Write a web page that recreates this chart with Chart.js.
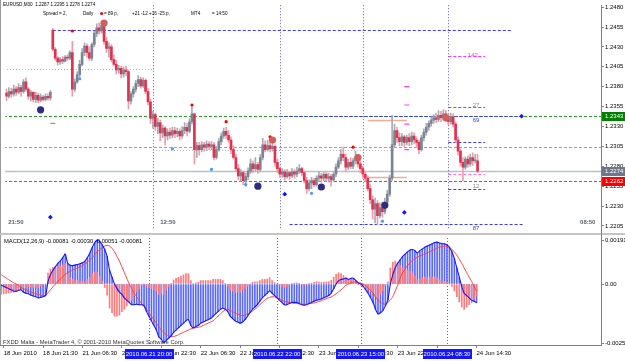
<!DOCTYPE html>
<html>
<head>
<meta charset="utf-8">
<script src="https://cdn.jsdelivr.net/npm/chart.js@4.4.1/dist/chart.umd.min.js"></script>
<style>
html, body { margin: 0; padding: 0; background: #fff; width: 625px; height: 361px; overflow: hidden; }
#pricePane { position: absolute; left: 0; top: 0; }
#macdPane { position: absolute; left: 0; top: 235px; }
</style>
</head>
<body>
<canvas id="pricePane" width="625" height="235"></canvas>
<canvas id="macdPane" width="625" height="126"></canvas>
<script>
// EURUSD M30, 18 Jun 2010 .. 24 Jun 2010 14:30 (one entry per bar)
const opens = [
  1.2372,1.2368,1.2374,1.2371,1.2377,1.2373,1.2379,1.2374,1.2386,1.2377,
  1.2368,1.2373,1.2364,1.2369,1.2363,1.2367,1.2364,1.2368,1.2366,1.2451,
  1.2427,1.2416,1.2411,1.2414,1.2412,1.2417,1.2416,1.2423,1.2377,1.2386,
  1.2395,1.2408,1.2423,1.2431,1.2423,1.2416,1.2433,1.2447,1.2454,1.2450,
  1.2457,1.2437,1.2428,1.2430,1.2414,1.2408,1.2401,1.2403,1.2396,1.2401,
  1.2399,1.2362,1.2371,1.2377,1.2384,1.2389,1.2381,1.2388,1.2374,1.2361,
  1.2340,1.2345,1.2330,1.2335,1.2322,1.2328,1.2318,1.2323,1.2319,1.2325,
  1.2321,1.2324,1.2318,1.2325,1.2329,1.2324,1.2336,1.2346,1.2301,1.2306,
  1.2301,1.2307,1.2304,1.2308,1.2305,1.2307,1.2291,1.2301,1.2311,1.2318,
  1.2324,1.2319,1.2313,1.2301,1.2291,1.2277,1.2268,1.2272,1.2262,1.2267,
  1.2274,1.2283,1.2277,1.2282,1.2276,1.2291,1.2307,1.2301,1.2306,1.2302,
  1.2305,1.2285,1.2277,1.2270,1.2273,1.2267,1.2272,1.2268,1.2273,1.2270,
  1.2274,1.2277,1.2272,1.2262,1.2252,1.2259,1.2262,1.2257,1.2265,1.2268,
  1.2265,1.2270,1.2265,1.2267,1.2263,1.2270,1.2279,1.2287,1.2295,1.2291,
  1.2279,1.2285,1.2280,1.2287,1.2291,1.2283,1.2277,1.2270,1.2265,1.2252,
  1.2238,1.2226,1.2233,1.2218,1.2228,1.2223,1.2235,1.2245,1.2265,1.2307,
  1.2325,1.2316,1.2311,1.2317,1.2310,1.2316,1.2311,1.2318,1.2313,1.2310,
  1.2301,1.2316,1.2323,1.2329,1.2334,1.2338,1.2341,1.2339,1.2344,1.2341,
  1.2346,1.2341,1.2336,1.2342,1.2333,1.2313,1.2299,1.2285,1.2279,1.2289,
  1.2283,1.2291,1.2287,1.2287
];
const highs = [
  1.2377,1.2379,1.2378,1.2382,1.2380,1.2384,1.2382,1.2389,1.2391,1.2379,
  1.2375,1.2374,1.2373,1.2372,1.2371,1.2369,1.2371,1.2371,1.2375,1.2453,
  1.2429,1.2418,1.2417,1.2418,1.2419,1.2420,1.2425,1.2437,1.2390,1.2399,
  1.2413,1.2428,1.2435,1.2434,1.2430,1.2435,1.2450,1.2459,1.2460,1.2462,
  1.2459,1.2442,1.2435,1.2433,1.2420,1.2413,1.2407,1.2406,1.2405,1.2406,
  1.2401,1.2374,1.2380,1.2388,1.2394,1.2392,1.2391,1.2390,1.2378,1.2364,
  1.2349,1.2347,1.2340,1.2338,1.2332,1.2330,1.2327,1.2328,1.2329,1.2329,
  1.2328,1.2327,1.2330,1.2335,1.2334,1.2340,1.2355,1.2347,1.2310,1.2310,
  1.2311,1.2310,1.2312,1.2311,1.2311,1.2310,1.2305,1.2315,1.2322,1.2328,
  1.2329,1.2325,1.2317,1.2306,1.2295,1.2282,1.2276,1.2274,1.2271,1.2278,
  1.2289,1.2287,1.2291,1.2285,1.2295,1.2315,1.2312,1.2313,1.2310,1.2309,
  1.2307,1.2289,1.2279,1.2277,1.2276,1.2276,1.2274,1.2277,1.2276,1.2279,
  1.2282,1.2279,1.2274,1.2266,1.2263,1.2266,1.2265,1.2268,1.2273,1.2271,
  1.2272,1.2272,1.2271,1.2270,1.2273,1.2283,1.2291,1.2301,1.2304,1.2295,
  1.2289,1.2291,1.2290,1.2299,1.2295,1.2287,1.2280,1.2274,1.2268,1.2257,
  1.2243,1.2240,1.2237,1.2234,1.2235,1.2240,1.2250,1.2269,1.2344,1.2333,
  1.2329,1.2322,1.2321,1.2319,1.2319,1.2321,1.2323,1.2322,1.2317,1.2313,
  1.2319,1.2327,1.2334,1.2337,1.2342,1.2345,1.2347,1.2350,1.2349,1.2351,
  1.2350,1.2346,1.2347,1.2346,1.2336,1.2317,1.2302,1.2291,1.2292,1.2293,
  1.2295,1.2297,1.2295,1.2295
];
const lows = [
  1.2362,1.2366,1.2367,1.2368,1.2369,1.2371,1.2368,1.2372,1.2374,1.2364,
  1.2362,1.2361,1.2360,1.2360,1.2361,1.2362,1.2362,1.2363,1.2363,1.2425,
  1.2413,1.2407,1.2408,1.2409,1.2411,1.2413,1.2414,1.2368,1.2374,1.2384,
  1.2392,1.2406,1.2419,1.2417,1.2413,1.2413,1.2430,1.2443,1.2446,1.2447,
  1.2433,1.2423,1.2417,1.2411,1.2406,1.2396,1.2397,1.2391,1.2392,1.2394,
  1.2352,1.2358,1.2367,1.2373,1.2380,1.2378,1.2379,1.2371,1.2357,1.2334,
  1.2328,1.2325,1.2321,1.2312,1.2316,1.2307,1.2313,1.2315,1.2316,1.2316,
  1.2317,1.2313,1.2315,1.2321,1.2318,1.2322,1.2333,1.2283,1.2291,1.2294,
  1.2298,1.2299,1.2300,1.2301,1.2301,1.2288,1.2289,1.2299,1.2307,1.2315,
  1.2315,1.2310,1.2296,1.2289,1.2273,1.2263,1.2261,1.2257,1.2255,1.2263,
  1.2271,1.2272,1.2274,1.2271,1.2273,1.2288,1.2298,1.2299,1.2298,1.2299,
  1.2280,1.2272,1.2266,1.2266,1.2263,1.2265,1.2263,1.2266,1.2265,1.2267,
  1.2271,1.2268,1.2259,1.2246,1.2249,1.2252,1.2254,1.2255,1.2261,1.2260,
  1.2262,1.2261,1.2260,1.2255,1.2261,1.2267,1.2277,1.2283,1.2287,1.2274,
  1.2276,1.2277,1.2277,1.2283,1.2279,1.2272,1.2265,1.2261,1.2249,1.2233,
  1.2214,1.2209,1.2207,1.2215,1.2216,1.2220,1.2231,1.2242,1.2262,1.2304,
  1.2310,1.2306,1.2306,1.2305,1.2307,1.2306,1.2307,1.2308,1.2304,1.2296,
  1.2299,1.2312,1.2319,1.2325,1.2330,1.2334,1.2335,1.2336,1.2336,1.2338,
  1.2336,1.2332,1.2333,1.2329,1.2310,1.2294,1.2280,1.2262,1.2276,1.2279,
  1.2280,1.2281,1.2284,1.2272
];
const closes = [
  1.2368,1.2374,1.2371,1.2377,1.2373,1.2379,1.2374,1.2386,1.2377,1.2368,
  1.2373,1.2364,1.2369,1.2363,1.2367,1.2364,1.2368,1.2366,1.2373,1.2427,
  1.2416,1.2411,1.2414,1.2412,1.2417,1.2416,1.2423,1.2377,1.2386,1.2395,
  1.2408,1.2423,1.2431,1.2423,1.2416,1.2433,1.2447,1.2454,1.2450,1.2457,
  1.2437,1.2428,1.2430,1.2414,1.2408,1.2401,1.2403,1.2396,1.2401,1.2399,
  1.2362,1.2371,1.2377,1.2384,1.2389,1.2381,1.2388,1.2374,1.2361,1.2340,
  1.2345,1.2330,1.2335,1.2322,1.2328,1.2318,1.2323,1.2319,1.2325,1.2321,
  1.2324,1.2318,1.2325,1.2329,1.2324,1.2336,1.2346,1.2301,1.2306,1.2301,
  1.2307,1.2304,1.2308,1.2305,1.2307,1.2291,1.2301,1.2311,1.2318,1.2324,
  1.2319,1.2313,1.2301,1.2291,1.2277,1.2268,1.2272,1.2262,1.2267,1.2274,
  1.2283,1.2277,1.2282,1.2276,1.2291,1.2307,1.2301,1.2306,1.2302,1.2305,
  1.2285,1.2277,1.2270,1.2273,1.2267,1.2272,1.2268,1.2273,1.2270,1.2274,
  1.2277,1.2272,1.2262,1.2252,1.2259,1.2262,1.2257,1.2265,1.2268,1.2265,
  1.2270,1.2265,1.2267,1.2263,1.2270,1.2279,1.2287,1.2295,1.2291,1.2279,
  1.2285,1.2280,1.2287,1.2291,1.2283,1.2277,1.2270,1.2265,1.2252,1.2238,
  1.2226,1.2233,1.2218,1.2228,1.2223,1.2235,1.2245,1.2265,1.2307,1.2325,
  1.2316,1.2311,1.2317,1.2310,1.2316,1.2311,1.2318,1.2313,1.2310,1.2301,
  1.2316,1.2323,1.2329,1.2334,1.2338,1.2341,1.2339,1.2344,1.2341,1.2346,
  1.2341,1.2336,1.2342,1.2333,1.2313,1.2299,1.2285,1.2279,1.2289,1.2283,
  1.2291,1.2287,1.2287,1.2274
];

// MACD(12,26,9), in points of 0.00001
const macdMain = [
  -5,-10,-15,-20,-25,-30,-32,-28,-25,-35,
  -40,-42,-48,-52,-55,-60,-58,-55,-50,10,
  40,60,75,90,100,115,130,90,82,80,
  82,85,88,92,100,115,135,160,180,191,
  185,170,150,120,60,30,0,-20,-35,-45,
  -60,-70,-80,-90,-90,-88,-90,-90,-95,-120,
  -140,-160,-180,-200,-230,-240,-255,-245,-235,-225,
  -210,-200,-190,-180,-170,-160,-155,-180,-190,-185,
  -180,-170,-165,-160,-155,-150,-140,-130,-120,-110,
  -105,-110,-120,-140,-150,-160,-165,-170,-165,-155,
  -140,-125,-110,-100,-90,-75,-60,-50,-40,-30,
  -40,-50,-60,-70,-80,-90,-90,-85,-80,-80,
  -80,-85,-90,-92,-90,-85,-80,-75,-70,-68,
  -65,-60,-55,-50,-40,-20,0,15,20,22,
  25,20,25,25,15,5,0,-10,-25,-40,
  -60,-80,-110,-130,-125,-115,-95,-70,0,40,
  70,90,105,120,130,140,148,150,145,135,
  145,152,160,165,170,175,180,182,178,175,
  175,170,160,140,110,70,30,-10,-40,-50,
  -60,-70,-75,-81
];
const macdSignal = [
  40,33,26,19,12,6,0,-5,-15,-20,
  -25,-30,-35,-38,-42,-45,-48,-50,-50,-38,
  -25,-12,0,12,22,32,42,50,55,60,
  65,70,75,80,88,95,105,115,128,140,
  150,158,165,168,165,155,140,120,100,75,
  50,25,0,-20,-40,-55,-70,-85,-95,-110,
  -125,-140,-155,-170,-185,-200,-210,-220,-225,-228,
  -228,-225,-220,-215,-210,-205,-200,-195,-192,-190,
  -188,-185,-180,-175,-170,-165,-160,-150,-140,-130,
  -120,-112,-110,-115,-120,-125,-130,-135,-138,-135,
  -130,-125,-118,-110,-100,-90,-80,-70,-62,-58,
  -55,-56,-60,-65,-70,-75,-78,-80,-82,-84,
  -85,-86,-88,-88,-88,-86,-84,-82,-80,-76,
  -72,-68,-64,-60,-56,-50,-42,-34,-25,-15,
  -5,0,5,8,8,6,4,0,-8,-18,
  -28,-40,-55,-70,-80,-85,-88,-80,-70,-55,
  -30,-5,25,50,65,80,92,102,110,117,
  122,126,130,135,140,145,150,155,160,163,
  165,163,160,150,140,125,108,90,70,50,
  30,12,-10,-30
];

// time axis
const timeTickBars = [1, 17, 33, 49, 65, 81, 97, 113, 129, 145, 161, 177, 193];
const timeTickLabels = ['18 Jun 2010', '18 Jun 21:30', '21 Jun 06:30', '21 Jun 14:30', '21 Jun 22:30',
  '22 Jun 06:30', '22 Jun 14:30', '22 Jun 22:30', '23 Jun 06:30', '23 Jun 14:30', '23 Jun 22:30',
  '24 Jun 06:30', '24 Jun 14:30'];
const sepBars = [60, 112, 146, 181];
const sepLabels = ['2010.06.21 20:00', '2010.06.22 22:00', '2010.06.23 15:00', '2010.06.24 08:30'];

// price axis
const priceTicks = [1.2480, 1.2455, 1.2430, 1.2405, 1.2380, 1.2355, 1.2330, 1.2305, 1.2280, 1.2255, 1.2230, 1.2205];
const priceMin = 1.22002;
const priceMax = 1.24824;
const macdMin = -0.00265;
const macdMax = 0.00200;
const macdTicks = [0.00191, 0, -0.00258];
const macdTickLabels = ['0.00191', '0.00', '-0.00258'];

// horizontal levels drawn on the price pane
const levelPrices = [1.2451, 1.2402, 1.2343, 1.2343, 1.2304, 1.2300, 1.2274, 1.2262, 1.2208, 1.2355, 1.2311, 1.2270, 1.2251, 1.2418, 1.2338, 1.2267];
const levelFrom   = [19, -1, -1, 112, -1, 60, -1, -1, 116, 181, 181, 181, 181, 181, 148, 148];
const levelTo     = [207, 60, 245, 211, 245, 159, 245, 245, 212, 196, 196, 196, 196, 196, 164, 164];
const levelTexts = ['27', '69', '12', '87', '142'];
const levelTextBars = [191, 191, 191, 191, 189];
const levelTextPrices = [1.2357, 1.2338, 1.2255, 1.2202, 1.2419];
const priceTags = [1.2343, 1.2274, 1.2262];

// markers
const navyBars = [14, 103, 129, 155];
const navyPrices = [1.2351, 1.2255, 1.2254, 1.2231];
const salmonBars = [40, 109, 144, 180];
const salmonPrices = [1.2460, 1.2313, 1.2291, 1.2341];
const redDotBars = [27, 39, 76, 90, 108, 142];
const redDotPrices = [1.2450, 1.2472, 1.2357, 1.2336, 1.2317, 1.2304];
const skyDotBars = [30, 68, 84, 98, 125, 154];
const skyDotPrices = [1.2390, 1.2302, 1.2276, 1.2257, 1.2246, 1.2211];
const diamondBars = [18, 114, 163, 211];
const diamondPrices = [1.2216, 1.2245, 1.2222, 1.2343];
const dashBars = [164, 164, 164, 164, 19];
const dashPrices = [1.2380, 1.2357, 1.2333, 1.2301, 1.2334];

// ---------- styles ----------
const FONT = '"Liberation Sans", Arial, sans-serif';
Chart.defaults.font.family = FONT;
Chart.defaults.font.size = 6;
Chart.defaults.color = '#000';

const levelStyles = [
  ['#3a3aff', [3, 2], 1], ['#b8b8b8', [1, 2], 1], ['#2f9a2f', [3, 2], 1], ['#3a3aff', [3, 2], 1],
  ['#f08a3c', [3, 2], 1], ['#b8b8b8', [1, 2], 1], ['#b9c1cc', [], 1.5], ['#ff3030', [3, 2], 1],
  ['#3a3aff', [3, 2], 1], ['#ff3030', [3, 2], 1], ['#3a3aff', [3, 2], 1], ['#ff70ff', [3, 2], 1],
  ['#3a3aff', [3, 2], 1], ['#ff33ff', [3, 2], 1], ['#f4ab8e', [], 1.5], ['#f4ab8e', [], 1.5]
];
const levelTextColors = ['#8c8c8c', '#3a3aff', '#8c8c8c', '#3a3aff', '#ff33ff'];
const tagColors = ['#008000', '#6f7788', '#ff0000'];
const X_MIN = -0.5, X_MAX = 243.56;

const barIdx = opens.map((_, i) => i);
const isUp = barIdx.map(i => closes[i] >= opens[i]);

function drawSeparators(chart) {
  const { ctx, chartArea, scales: { x } } = chart;
  ctx.save();
  ctx.strokeStyle = '#5a5aff';
  ctx.lineWidth = 1;
  ctx.setLineDash([1, 2]);
  sepBars.forEach(b => {
    const px = Math.round(x.getPixelForValue(b)) + 0.5;
    ctx.beginPath();
    ctx.moveTo(px, chartArea.top);
    ctx.lineTo(px, chartArea.bottom);
    ctx.stroke();
  });
  ctx.restore();
}

const pricePlugin = {
  id: 'priceOverlay',
  beforeDatasetsDraw(chart) {
    const { ctx, chartArea, scales: { x, y } } = chart;
    ctx.save();
    ctx.beginPath();
    ctx.rect(chartArea.left, chartArea.top, chartArea.right - chartArea.left, chartArea.bottom - chartArea.top);
    ctx.clip();
    levelPrices.forEach((p, i) => {
      const [color, dash, w] = levelStyles[i];
      const py = Math.round(y.getPixelForValue(p)) + 0.5;
      ctx.strokeStyle = color;
      ctx.lineWidth = w;
      ctx.setLineDash(dash);
      ctx.beginPath();
      ctx.moveTo(x.getPixelForValue(levelFrom[i]), py);
      ctx.lineTo(x.getPixelForValue(levelTo[i]), py);
      ctx.stroke();
    });
    ctx.restore();
    drawSeparators(chart);
  },
  afterDraw(chart) {
    const { ctx, chartArea, scales: { x, y } } = chart;
    ctx.save();
    // pane separator, left border, axis line through the gap
    ctx.fillStyle = '#c4c4c4';
    ctx.fillRect(0, 233, 625, 2);
    ctx.fillStyle = '#9a9a9a';
    ctx.fillRect(0, 0, 1, 233);
    ctx.fillStyle = '#808080';
    ctx.fillRect(Math.round(chartArea.right), chartArea.bottom, 1, 235 - chartArea.bottom);

    // header
    ctx.fillStyle = '#000';
    ctx.textBaseline = 'middle';
    ctx.textAlign = 'left';
    ctx.font = '4.6px ' + FONT;
    ctx.fillText('EURUSD,M30  1.2287 1.2295 1.2278 1.2274', 3, 5);
    ctx.fillText('Spread = 2,', 43, 14);
    ctx.fillText('Daily', 83, 14);
    ctx.fillText('= 89 p,', 104, 14);
    ctx.fillText('+21 -12 +16 -25 p,', 132, 14);
    ctx.fillText('MT4', 191, 14);
    ctx.fillText('= 14:50', 212, 14);

    // level labels
    ctx.font = '6px ' + FONT;
    levelTexts.forEach((t, i) => {
      ctx.fillStyle = levelTextColors[i];
      ctx.fillText(t, x.getPixelForValue(levelTextBars[i]), y.getPixelForValue(levelTextPrices[i]));
    });

    // bar countdown labels
    ctx.font = 'bold 6px ' + FONT;
    ctx.fillStyle = '#56606c';
    ctx.fillText('21:50', x.getPixelForValue(0.7), y.getPixelForValue(1.2209));
    ctx.fillText('12:50', x.getPixelForValue(63), y.getPixelForValue(1.2209));
    ctx.fillText('08:50', x.getPixelForValue(235), y.getPixelForValue(1.2209));

    // price tags on the axis
    ctx.font = '6px ' + FONT;
    priceTags.forEach((p, i) => {
      const py = Math.round(y.getPixelForValue(p));
      ctx.fillStyle = tagColors[i];
      ctx.fillRect(chartArea.right + 1, py - 4, 24, 9);
      ctx.fillStyle = '#fff';
      ctx.fillText(p.toFixed(4), chartArea.right + 4, py + 0.5);
    });
    ctx.restore();
  }
};

new Chart(document.getElementById('pricePane'), {
  type: 'bar',
  data: {
    datasets: [
      { type: 'scatter', data: navyBars.map((b, i) => ({ x: b, y: navyPrices[i] })),
        pointRadius: 3.6, backgroundColor: '#2f2b80', borderWidth: 0, order: 0 },
      { type: 'scatter', data: salmonBars.map((b, i) => ({ x: b, y: salmonPrices[i] })),
        pointRadius: 3.6, backgroundColor: '#cf5f5f', borderWidth: 0, order: 0 },
      { type: 'scatter', data: redDotBars.map((b, i) => ({ x: b, y: redDotPrices[i] })),
        pointRadius: 1.6, backgroundColor: '#ff0000', borderWidth: 0, order: 0 },
      { type: 'scatter', data: skyDotBars.map((b, i) => ({ x: b, y: skyDotPrices[i] })),
        pointRadius: 1.6, backgroundColor: '#4f98ff', borderWidth: 0, order: 0 },
      { type: 'scatter', data: diamondBars.map((b, i) => ({ x: b, y: diamondPrices[i] })),
        pointStyle: 'rectRot', pointRadius: 2.4, backgroundColor: '#1414ff', borderWidth: 0, order: 0 },
      { type: 'scatter', data: dashBars.map((b, i) => ({ x: b, y: dashPrices[i] })),
        pointStyle: 'line', pointRadius: 2.5, borderColor: ['#ff44ff', '#ff44ff', '#ff44ff', '#ff44ff', '#9a9aa8'],
        borderWidth: 1.2, order: 0 },
      { label: 'body', data: barIdx.map(i => ({ x: i, y: [opens[i], closes[i]] })),
        backgroundColor: barIdx.map(i => isUp[i] ? '#7c8390' : '#e2304f'),
        barThickness: 2, minBarLength: 1, grouped: false, order: 5 },
      { label: 'wick', data: barIdx.map(i => ({ x: i, y: [lows[i], highs[i]] })),
        backgroundColor: barIdx.map(i => isUp[i] ? '#a6abb4' : '#f29aaa'),
        barThickness: 1, grouped: false, order: 6 }
    ]
  },
  options: {
    responsive: false,
    animation: false,
    events: [],
    layout: { padding: { top: 1, bottom: 2, left: 0, right: 0 } },
    plugins: { legend: { display: false }, tooltip: { enabled: false } },
    scales: {
      x: { type: 'linear', min: X_MIN, max: X_MAX, offset: false, display: false, grid: { offset: false } },
      y: {
        position: 'right', min: priceMin, max: priceMax,
        afterBuildTicks: s => { s.ticks = priceTicks.map(v => ({ value: v })); },
        afterFit: s => { s.width = 24; s.paddingTop = 0; s.paddingBottom = 0; },
        ticks: { padding: 1, color: '#000', font: { size: 6 }, callback: v => v.toFixed(4) },
        grid: { drawOnChartArea: false, tickLength: 3, color: '#808080' },
        border: { color: '#808080' }
      }
    }
  },
  plugins: [pricePlugin]
});

const macdPlugin = {
  id: 'macdOverlay',
  beforeDatasetsDraw(chart) { drawSeparators(chart); },
  afterDraw(chart) {
    const { ctx, chartArea, scales: { x } } = chart;
    ctx.save();
    ctx.fillStyle = '#9a9a9a';
    ctx.fillRect(0, 0, 1, chartArea.bottom);
    ctx.fillStyle = '#808080';
    ctx.fillRect(Math.round(chartArea.right), 0, 1, chartArea.top);
    ctx.fillStyle = '#000';
    ctx.textBaseline = 'middle';
    ctx.textAlign = 'left';
    ctx.font = '5.8px ' + FONT;
    ctx.fillText('MACD(12,26,9) -0.00081 -0.00030 -0.00051 -0.00081', 4, 6);
    ctx.fillStyle = '#333';
    ctx.fillText('FXDD Malta - MetaTrader 4, \u00a9 2001-2010 MetaQuotes Software Corp.', 3, 107);
    // highlighted separator dates on the time axis
    ctx.font = '6px ' + FONT;
    sepLabels.forEach((t, i) => {
      const px = x.getPixelForValue(sepBars[i]);
      const w = ctx.measureText(t).width + 2;
      ctx.fillStyle = '#1515ff';
      ctx.fillRect(Math.round(px - w / 2), chartArea.bottom + 4, Math.round(w), 10);
      ctx.fillStyle = '#fff';
      ctx.textAlign = 'center';
      ctx.fillText(t, px, chartArea.bottom + 9.5);
    });
    ctx.restore();
  }
};

new Chart(document.getElementById('macdPane'), {
  type: 'bar',
  data: {
    datasets: [
      { type: 'line', data: barIdx.map(i => ({ x: i, y: macdMain[i] * 1e-5 })),
        borderColor: '#1414ff', borderWidth: 1.1, pointRadius: 0, tension: 0.2, order: 0 },
      { type: 'line', data: barIdx.map(i => ({ x: i, y: macdSignal[i] * 1e-5 })),
        borderColor: '#ff3c3c', borderWidth: 1, pointRadius: 0, tension: 0.2, order: 1 },
      { data: barIdx.map(i => ({ x: i, y: [0, (macdMain[i] - macdSignal[i]) * 1e-5] })),
        backgroundColor: '#ff7a7a', barThickness: 1, grouped: false, order: 2 },
      { data: barIdx.map(i => ({ x: i, y: macdMain[i] * 1e-5 })),
        backgroundColor: '#5a68ff', barThickness: 1, grouped: false, order: 3 }
    ]
  },
  options: {
    responsive: false,
    animation: false,
    events: [],
    layout: { padding: { top: 3, bottom: 0, left: 0, right: 0 } },
    plugins: { legend: { display: false }, tooltip: { enabled: false } },
    scales: {
      x: {
        type: 'linear', min: X_MIN, max: X_MAX, offset: false, position: 'bottom',
        afterBuildTicks: s => { s.ticks = timeTickBars.map(v => ({ value: v })); },
        afterFit: s => { s.height = 16; s.paddingLeft = 0; s.paddingRight = 0; },
        ticks: { autoSkip: false, maxRotation: 0, align: 'start', padding: 2, color: '#000',
          font: { size: 6 }, callback: (v, i) => timeTickLabels[i] },
        grid: { drawOnChartArea: false, offset: false, tickLength: 3, color: '#808080' },
        border: { color: '#808080' }
      },
      y: {
        position: 'right', min: macdMin, max: macdMax,
        afterBuildTicks: s => { s.ticks = macdTicks.map(v => ({ value: v })); },
        afterFit: s => { s.width = 24; s.paddingTop = 0; s.paddingBottom = 0; },
        ticks: { padding: 1, color: '#000', font: { size: 6 }, callback: (v, i) => macdTickLabels[i] },
        grid: { drawOnChartArea: false, tickLength: 3, color: '#808080' },
        border: { color: '#808080' }
      }
    }
  },
  plugins: [macdPlugin]
});
</script>
</body>
</html>
